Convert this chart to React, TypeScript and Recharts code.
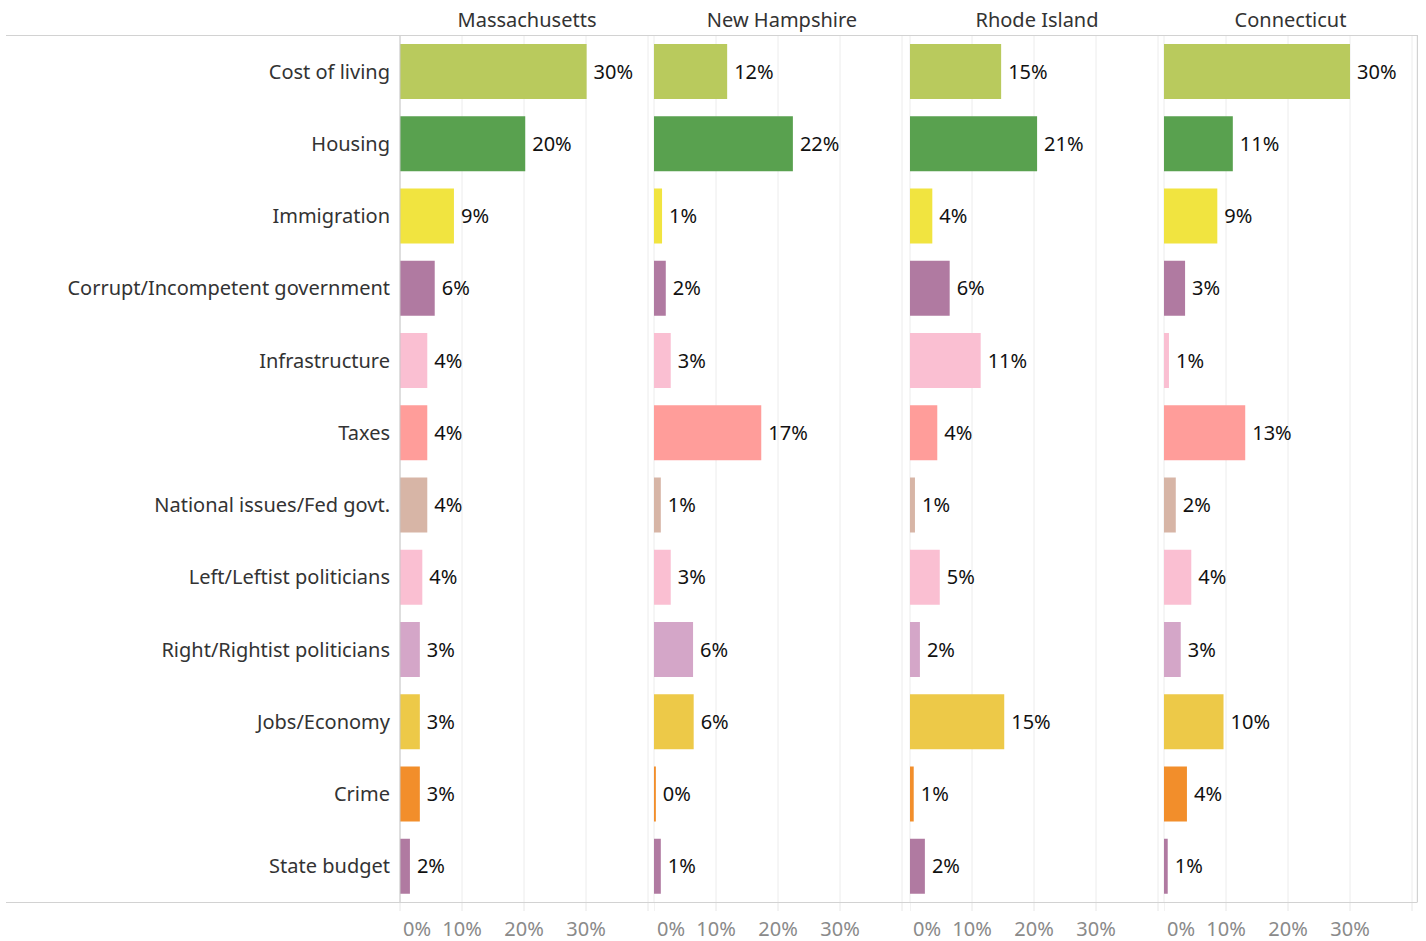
import React from 'react';
import { BarChart, Bar, XAxis, YAxis, CartesianGrid, Cell, LabelList } from 'recharts';

const categories = [
  'Cost of living',
  'Housing',
  'Immigration',
  'Corrupt/Incompetent government',
  'Infrastructure',
  'Taxes',
  'National issues/Fed govt.',
  'Left/Leftist politicians',
  'Right/Rightist politicians',
  'Jobs/Economy',
  'Crime',
  'State budget',
];

const categoryColors = [
  '#b9ca5d',
  '#59a14f',
  '#f1e440',
  '#b07aa1',
  '#fabfd2',
  '#ff9d9a',
  '#d7b5a6',
  '#fabfd2',
  '#d4a6c8',
  '#edc948',
  '#f28e2b',
  '#b07aa1',
];

const states = ['Massachusetts', 'New Hampshire', 'Rhode Island', 'Connecticut'];

// values in percent
const massachusetts = [30.1, 20.2, 8.7, 5.6, 4.4, 4.4, 4.4, 3.6, 3.2, 3.2, 3.2, 1.6];
const newHampshire = [11.8, 22.4, 1.3, 1.9, 2.7, 17.3, 1.1, 2.7, 6.3, 6.4, 0.3, 1.1];
const rhodeIsland = [14.7, 20.5, 3.6, 6.4, 11.4, 4.4, 0.8, 4.8, 1.6, 15.2, 0.6, 2.4];
const connecticut = [30.0, 11.1, 8.6, 3.4, 0.8, 13.1, 1.9, 4.4, 2.7, 9.6, 3.7, 0.6];

const seriesByState = [massachusetts, newHampshire, rhodeIsland, connecticut];

const xTicks = [0, 10, 20, 30, 40];
const xTickLabels = ['0%', '10%', '20%', '30%', ''];

const FONT = '"Noto Sans", "Open Sans", sans-serif';
const PX_PER_PCT = 6.2;
const TOP = 35;
const PLOT_H = 867;
const AXIS_H = 39;
const LABEL_W = 400;
const panelZeros = [400, 654, 910, 1164];
const RIGHT_EDGE = 1417;

const XTick = (props: any) => {
  const { x, y, payload, index } = props;
  const label = xTickLabels[index] ?? '';
  if (!label) return null;
  const isZero = payload.value === 0;
  return (
    <text
      x={isZero ? x + 3 : x}
      y={y + 23}
      textAnchor={isZero ? 'start' : 'middle'}
      fill="#8a8a8a"
      fontSize={20}
      fontFamily={FONT}
    >
      {label}
    </text>
  );
};

const YTick = (props: any) => {
  const { x, y, payload } = props;
  return (
    <text
      x={x}
      y={y}
      textAnchor="end"
      dominantBaseline="central"
      fill="#333333"
      fontSize={20}
      fontFamily={FONT}
    >
      {payload.value}
    </text>
  );
};

const Panel = ({ index }: { index: number }) => {
  const values = seriesByState[index];
  const data = categories.map((c, i) => ({ category: c, value: values[i] }));
  const zero = panelZeros[index];
  const next = index < panelZeros.length - 1 ? panelZeros[index + 1] : RIGHT_EDGE;
  const plotW = next - zero;
  const domainMax = plotW / PX_PER_PCT;
  const first = index === 0;
  const yW = first ? LABEL_W : 0;
  const left = first ? 0 : zero;
  return (
    <div style={{ position: 'absolute', left, top: TOP }}>
      <BarChart
        width={yW + plotW}
        height={PLOT_H + AXIS_H}
        data={data}
        layout="vertical"
        margin={{ top: 0, right: 0, bottom: 0, left: 0 }}
      >
        <CartesianGrid horizontal={false} vertical stroke="#ececec" strokeWidth={1} />
        <XAxis
          type="number"
          domain={[0, domainMax]}
          ticks={xTicks}
          allowDataOverflow
          height={AXIS_H}
          axisLine={false}
          tickLine={{ stroke: '#e6e6e6' }}
          tickSize={9}
          tickMargin={2}
          interval={0}
          tick={<XTick />}
        />
        <YAxis
          type="category"
          dataKey="category"
          width={yW}
          axisLine={{ stroke: '#c8c8c8' }}
          tickLine={false}
          tickSize={0}
          tickMargin={10}
          interval={0}
          tick={first ? <YTick /> : false}
        />
        <Bar dataKey="value" barSize={55} isAnimationActive={false}>
          {data.map((d, i) => (
            <Cell key={d.category} fill={categoryColors[i]} />
          ))}
          <LabelList
            dataKey="value"
            position="right"
            offset={7}
            formatter={(v: any) => `${Math.round(Number(v))}%`}
            fill="#111111"
            fontSize={20}
            fontFamily={FONT}
          />
        </Bar>
      </BarChart>
    </div>
  );
};

export default function App() {
  return (
    <div style={{ position: 'absolute', left: 0, top: 0, width: 1426, height: 941, background: '#ffffff', fontFamily: FONT }}>
      {states.map((s, i) => {
        const zero = panelZeros[i];
        const next = i < panelZeros.length - 1 ? panelZeros[i + 1] : RIGHT_EDGE;
        return (
          <div
            key={s}
            style={{
              position: 'absolute',
              left: zero,
              width: next - zero,
              top: 6,
              textAlign: 'center',
              fontSize: 20,
              lineHeight: '28px',
              color: '#333333',
            }}
          >
            {s}
          </div>
        );
      })}
      {[0, 1, 2, 3].map((i) => (
        <Panel key={i} index={i} />
      ))}
      <svg
        width={1426}
        height={941}
        style={{ position: 'absolute', left: 0, top: 0, pointerEvents: 'none' }}
      >
        <line x1={6} x2={RIGHT_EDGE + 0.5} y1={TOP + 0.5} y2={TOP + 0.5} stroke="#d2d2d2" />
        <line x1={6} x2={RIGHT_EDGE + 0.5} y1={TOP + PLOT_H + 0.5} y2={TOP + PLOT_H + 0.5} stroke="#d2d2d2" />
        <line x1={RIGHT_EDGE + 0.5} x2={RIGHT_EDGE + 0.5} y1={TOP} y2={TOP + PLOT_H} stroke="#d2d2d2" />
      </svg>
    </div>
  );
}
